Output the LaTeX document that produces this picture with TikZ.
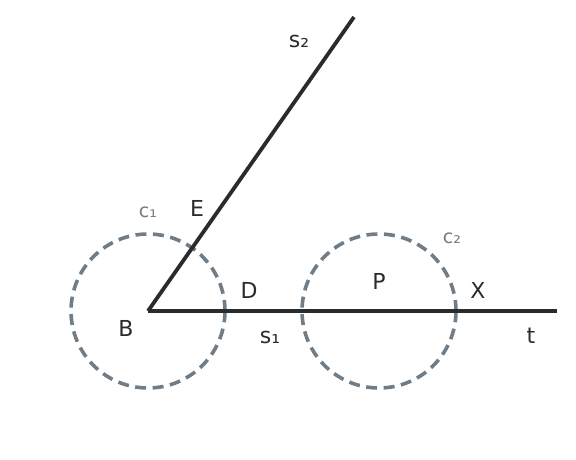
\documentclass[tikz,border=0pt]{standalone}
\usepackage{fontspec}
\setmainfont{DejaVu Sans}
\usetikzlibrary{positioning}
\definecolor{ink}{HTML}{2B2B2B}
\definecolor{slate}{HTML}{717D86}
\tikzset{seg/.style={draw=ink, line width=3.8pt},
circ/.style={circle, draw=slate, line width=3.6pt, dash pattern=on 11pt off 6.5pt,
minimum size=154pt, inner sep=0pt},
lbl/.style={text=ink, inner sep=0pt, font=\fontsize{22}{22}\selectfont},
clbl/.style={lbl, text=slate, font=\fontsize{19}{19}\selectfont}}

\begin{document}
\begin{tikzpicture}[x=1pt,y=-1pt]
  \useasboundingbox (0,0) rectangle (576,460);
  \coordinate (B) at (148,311);
  \coordinate (P) at (379,311);
  \coordinate (tend) at (557,311);
  \coordinate (send) at (354,17);

  \node (c1) [circ] at (B) {};
  \node (c2) [circ] at (P) {};

  \draw [seg] (B) -- (tend);
  \draw [seg] (B) -- (send);

  \node (labB) [lbl] at (126,328) {B};
  \node (labE) [lbl] at (197,208) {E};
  \node (labD) [lbl] at (249,290) {D};
  \node (labP) [lbl] at (379,281) {P};
  \node (labX) [lbl] at (478,290) {X};
  \node (labt) [lbl] at (531,336) {t};
  \node (labs1) [lbl] at (270,337) {s₁};
  \node (labs2) [lbl] at (299,41) {s₂};
  \node (labc1) [clbl] at (148,212) {c₁};
  \node (labc2) [clbl] at (452,238) {c₂};
\end{tikzpicture}
\end{document}
